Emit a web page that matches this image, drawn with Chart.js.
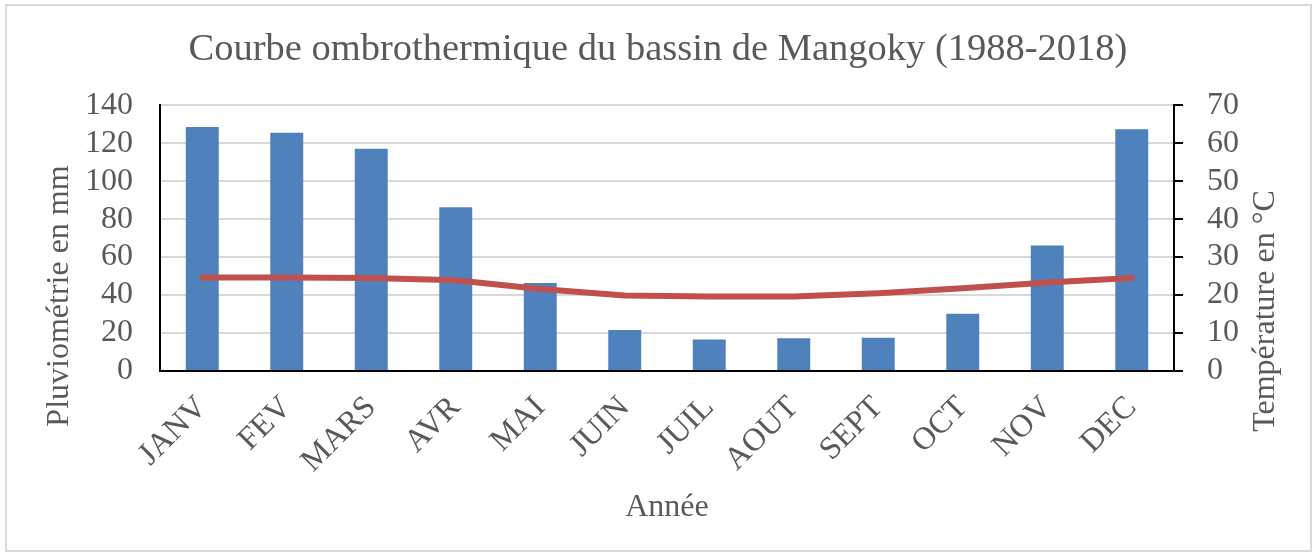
<!DOCTYPE html>
<html lang="fr">
<head>
<meta charset="utf-8">
<title>Courbe ombrothermique</title>
<script src="https://cdn.jsdelivr.net/npm/chart.js@4/dist/chart.umd.min.js"></script>
<style>
  html, body { margin: 0; padding: 0; background: #fff; }
  #wrap { width: 1316px; height: 553px; }
</style>
</head>
<body>
<div id="wrap"><canvas id="chart" width="1316" height="553"></canvas></div>
<script>
'use strict';

// ── Data ──────────────────────────────────────────────────────────────────
const MONTHS = ['JANV', 'FEV', 'MARS', 'AVR', 'MAI', 'JUIN', 'JUIL', 'AOUT', 'SEPT', 'OCT', 'NOV', 'DEC'];
const RAIN_MM = [128.5, 125.5, 117, 86.3, 46.3, 21.6, 16.6, 17.2, 17.5, 30.2, 66.1, 127.3];
const TEMP_C  = [24.6, 24.6, 24.5, 23.9, 21.6, 19.9, 19.6, 19.6, 20.5, 21.8, 23.3, 24.5];

const TITLE       = 'Courbe ombrothermique du bassin de Mangoky (1988-2018)';
const LEFT_TITLE  = 'Pluviométrie en mm';
const RIGHT_TITLE = 'Température en °C';
const X_TITLE     = 'Année';

// ── Colours ───────────────────────────────────────────────────────────────
const COL_BAR  = '#4f81bd';
const COL_LINE = '#c0504d';
const COL_TEXT = '#595959';
const COL_GRID = '#d9d9d9';
const FONT     = '"Liberation Serif", "Times New Roman", serif';

Chart.defaults.font.family = FONT;
Chart.defaults.color = COL_TEXT;

// Excel-style frame around the whole chart
const frame = {
  id: 'frame',
  beforeDraw(chart) {
    const { ctx } = chart;
    ctx.save();
    ctx.fillStyle = '#fff';
    ctx.fillRect(0, 0, chart.width, chart.height);
    ctx.strokeStyle = COL_GRID;
    ctx.lineWidth = 2;
    ctx.strokeRect(6, 5, 1305, 546);
    ctx.restore();
  },
};

// Both y titles read bottom-to-top, like Excel (Chart.js turns the right one the other way)
const sideTitles = {
  id: 'sideTitles',
  afterDraw(chart) {
    const { ctx } = chart;
    ctx.save();
    ctx.font = '32px ' + FONT;
    ctx.fillStyle = COL_TEXT;
    ctx.textAlign = 'center';
    ctx.textBaseline = 'alphabetic';
    [[68, 296, LEFT_TITLE], [1274, 311, RIGHT_TITLE]].forEach(([x, y, txt]) => {
      ctx.save();
      ctx.translate(x, y);
      ctx.rotate(-Math.PI / 2);
      ctx.fillText(txt, 0, 0);
      ctx.restore();
    });
    ctx.restore();
  },
};

new Chart(document.getElementById('chart'), {
  type: 'bar',
  data: {
    labels: MONTHS,
    datasets: [
      {
        type: 'line',
        label: 'Température',
        data: TEMP_C,
        yAxisID: 'y1',
        borderColor: COL_LINE,
        borderWidth: 6,
        borderCapStyle: 'round',
        borderJoinStyle: 'round',
        pointRadius: 0,
        tension: 0,
        order: 0,
      },
      {
        label: 'Pluviométrie',
        data: RAIN_MM,
        yAxisID: 'y',
        backgroundColor: COL_BAR,
        barPercentage: 0.39,
        categoryPercentage: 1,
        order: 1,
      },
    ],
  },
  options: {
    responsive: false,
    animation: false,
    layout: { padding: 0 },
    plugins: {
      legend: { display: false },
      tooltip: { enabled: false },
      title: {
        display: true,
        text: TITLE,
        color: COL_TEXT,
        font: { size: 38.5, weight: 'normal', lineHeight: 1.2 },
        padding: { top: 27, bottom: 32 },
      },
    },
    scales: {
      x: {
        offset: true,
        grid: { display: false },
        border: { color: '#000', width: 2 },
        ticks: {
          font: { size: 32 },
          color: COL_TEXT,
          autoSkip: false,
          minRotation: 45,
          maxRotation: 45,
          padding: 10,
        },
        title: {
          display: true,
          text: X_TITLE,
          color: COL_TEXT,
          font: { size: 32, lineHeight: 1.2 },
          padding: { top: 0, bottom: 26 },
        },
        afterFit(scale) { scale.height = 182; },
      },
      y: {
        position: 'left',
        min: 0,
        max: 140,
        ticks: { stepSize: 20, autoSkip: false, font: { size: 32 }, color: COL_TEXT, padding: 27 },
        grid: { color: COL_GRID, lineWidth: 2, drawTicks: false },
        border: { color: '#000', width: 2 },
        afterFit(scale) { scale.width = 160; },
      },
      y1: {
        position: 'right',
        min: 0,
        max: 70,
        ticks: { stepSize: 10, autoSkip: false, font: { size: 32 }, color: COL_TEXT, padding: 24 },
        grid: { drawOnChartArea: false, drawTicks: true, tickLength: 9, color: '#000', lineWidth: 2 },
        border: { color: '#000', width: 2 },
        afterFit(scale) { scale.width = 142; },
      },
    },
  },
  plugins: [frame, sideTitles],
});
</script>
</body>
</html>
